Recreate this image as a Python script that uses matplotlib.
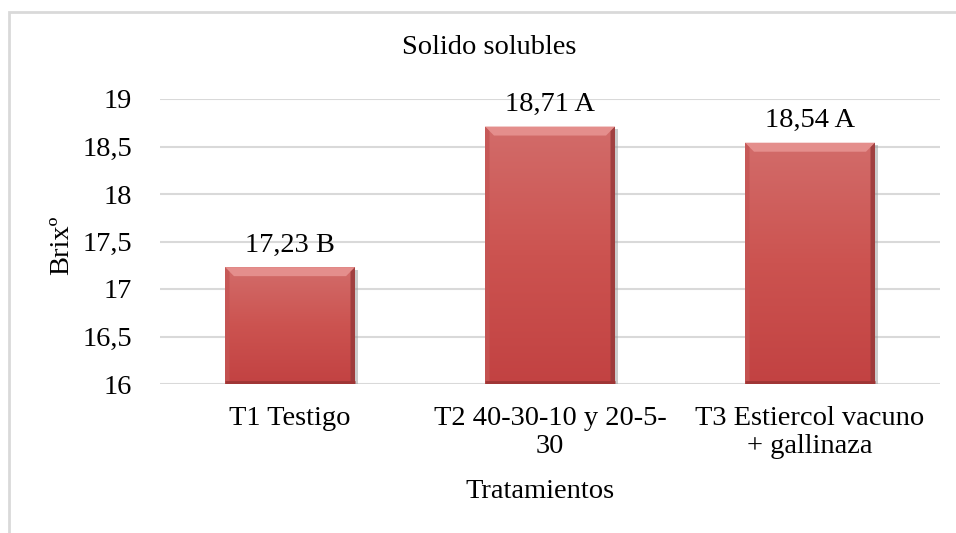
import numpy as np
import matplotlib
matplotlib.use("Agg")
import matplotlib.pyplot as plt
from matplotlib.patches import Rectangle, Polygon
from matplotlib.colors import LinearSegmentedColormap
import matplotlib.patheffects as pe

categories = ["T1 Testigo", "T2 40-30-10 y 20-5-\n30", "T3 Estiercol vacuno\n+ gallinaza"]
values = [17.23, 18.71, 18.54]
letters = ["B", "A", "A"]
yticks = [16, 16.5, 17, 17.5, 18, 18.5, 19]
ytick_labels = ["16", "16,5", "17", "17,5", "18", "18,5", "19"]
title = "Solido solubles"
xlabel = "Tratamientos"
ylabel = "Brixº"

FAM = ['Liberation Serif', 'DejaVu Serif']
plt.rcParams['font.family'] = FAM
plt.rcParams['font.serif'] = ['Liberation Serif']
FS = 20.5

fig = plt.figure(figsize=(9.56, 5.33), dpi=100)
fig.patch.set_facecolor("white")
ax = fig.add_axes([160/956, 1-384/533, (940-160)/956, (384-99)/533])

ymin, ymax = 16, 19
ax.set_ylim(ymin, ymax)
ax.set_xlim(-0.5, len(categories)-0.5)
ax.set_yticks(yticks)
ax.set_yticklabels(ytick_labels, fontsize=FS, family=FAM)
x = np.arange(len(categories))
ax.set_xticks(x)
ax.set_xticklabels(categories, fontsize=FS, linespacing=1.12, family=FAM)
ax.tick_params(axis='both', length=0)
ax.tick_params(axis='x', pad=16)
ax.tick_params(axis='y', pad=20)
for s in ax.spines.values():
    s.set_visible(False)
ax.grid(axis='y', color='#d9d9d9', linewidth=1.5, zorder=0)
ax.set_axisbelow(True)

width = 0.5
bars = ax.bar(x, [v - ymin for v in values], width=width, bottom=ymin,
              color='#cc5450', zorder=3, linewidth=0)

cmap = LinearSegmentedColormap.from_list("g", ["#c24242", "#cc5350", "#d26c6a"])
grad = np.linspace(0, 1, 256).reshape(-1, 1)
bx = 9/260  # bevel horizontal, in category units
by = 9/95   # bevel vertical, in data units
for b, v, let in zip(bars, values, letters):
    b.set_path_effects([pe.SimplePatchShadow(offset=(2, -2), shadow_rgbFace='#999999', alpha=0.5), pe.Normal()])
    x0, x1 = b.get_x(), b.get_x() + b.get_width()
    im = ax.imshow(grad, extent=[x0, x1, ymin, v], origin='lower', cmap=cmap,
                   aspect='auto', zorder=4, interpolation='bicubic')
    im.set_clip_path(b)
    top = Polygon([[x0, v], [x1, v], [x1 - bx, v - by], [x0 + bx, v - by]],
                  closed=True, facecolor='#e48e8c', edgecolor='none', zorder=5)
    left = Polygon([[x0, v], [x0 + bx*0.5, v - by*0.5], [x0 + bx*0.5, ymin], [x0, ymin]],
                   closed=True, facecolor='#c45554', edgecolor='none', zorder=5, alpha=0.8)
    right = Polygon([[x1, v], [x1 - bx*0.5, v - by*0.5], [x1 - bx*0.5, ymin], [x1, ymin]],
                    closed=True, facecolor='#98393a', edgecolor='none', zorder=5, alpha=0.85)
    ax.add_patch(top); ax.add_patch(left); ax.add_patch(right)
    ax.plot([x0, x1], [ymin + 0.02, ymin + 0.02], color='#9e3535', lw=2, zorder=6, solid_capstyle='butt')
    lab = f"{v:.2f}".replace('.', ',') + " " + let
    ax.text((x0 + x1)/2, v + 0.1, lab, ha='center', va='bottom', fontsize=FS, zorder=7,
            clip_on=False, family=FAM)

ax.set_xlim(-0.5, len(categories)-0.5)
ax.set_ylim(ymin, ymax)

fig.text(489/956, 1-48/533, title, ha='center', va='center', fontsize=FS, family=FAM)
fig.text(540/956, 1-492/533, xlabel, ha='center', va='center', fontsize=FS, family=FAM)
fig.text(62/956, 1-245/533, ylabel, ha='center', va='center', fontsize=FS, rotation=90, family=FAM)

frame = Rectangle((9/956, -0.1), 1.2, (1-12/533) + 0.1, transform=fig.transFigure,
                  fill=False, edgecolor='#d9d9d9', linewidth=2)
fig.patches.append(frame)

fig.savefig("out.png", dpi=100, facecolor='white')
